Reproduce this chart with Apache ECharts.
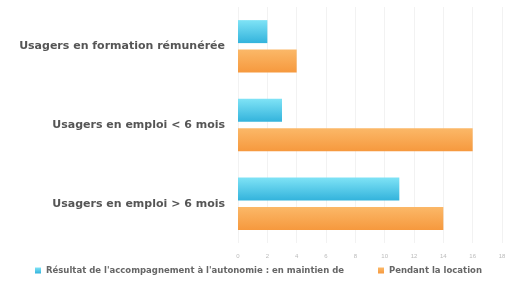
<!DOCTYPE html>
<html>
<head>
<meta charset="utf-8">
<script src="https://cdn.jsdelivr.net/npm/echarts@6/dist/echarts.min.js"></script>
<style>
  html, body { margin: 0; padding: 0; background: #fff; }
  #main { width: 505px; height: 287px; }
</style>
</head>
<body>
<div id="main"></div>
<script>
// categories, top to bottom
var categories = ['Usagers en formation rémunérée', 'Usagers en emploi < 6 mois', 'Usagers en emploi > 6 mois'];
var seriesNames = ["Résultat de l'accompagnement à l'autonomie : en maintien de", 'Pendant la location'];
var resultat = [2, 3, 11];
var pendant = [4, 16, 14];
var xTicks = [0, 2, 4, 6, 8, 10, 12, 14, 16, 18];

var myChart = echarts.init(document.getElementById('main'));

var option = {
    animation: false,
    grid: { left: 238, right: 3, top: 7, bottom: 44, outerBoundsMode: 'none' },
    legend: {
        bottom: 7,
        left: 30,
        itemWidth: 6,
        itemHeight: 6,
        itemGap: 34,
        icon: 'rect',
        textStyle: { color: '#666', fontSize: 8.5, fontWeight: 'bold', fontFamily: 'DejaVu Sans' },
        data: seriesNames
    },
    xAxis: {
        type: 'value',
        min: xTicks[0],
        max: xTicks[xTicks.length - 1],
        interval: 2,
        axisLine: { show: false },
        axisTick: { show: false },
        axisLabel: { color: '#bbb', fontSize: 6, margin: 10 },
        splitLine: { lineStyle: { color: '#f2f2f2' } }
    },
    yAxis: {
        type: 'category',
        inverse: true,
        data: categories,
        axisLine: { show: false },
        axisTick: { show: false },
        axisLabel: { color: '#555', fontSize: 11, fontWeight: 'bold', fontFamily: 'DejaVu Sans', margin: 13 }
    },
    series: [
        {
            name: seriesNames[0],
            type: 'bar',
            data: resultat,
            barWidth: 23,
            barGap: '28%',
            itemStyle: {
                color: new echarts.graphic.LinearGradient(0, 0, 0, 1, [
                    { offset: 0, color: '#7fe3f6' },
                    { offset: 1, color: '#33b3dc' }
                ])
            }
        },
        {
            name: seriesNames[1],
            type: 'bar',
            data: pendant,
            barWidth: 23,
            itemStyle: {
                color: new echarts.graphic.LinearGradient(0, 0, 0, 1, [
                    { offset: 0, color: '#fbb868' },
                    { offset: 1, color: '#f6993e' }
                ])
            }
        }
    ]
};

myChart.setOption(option);
</script>
</body>
</html>
